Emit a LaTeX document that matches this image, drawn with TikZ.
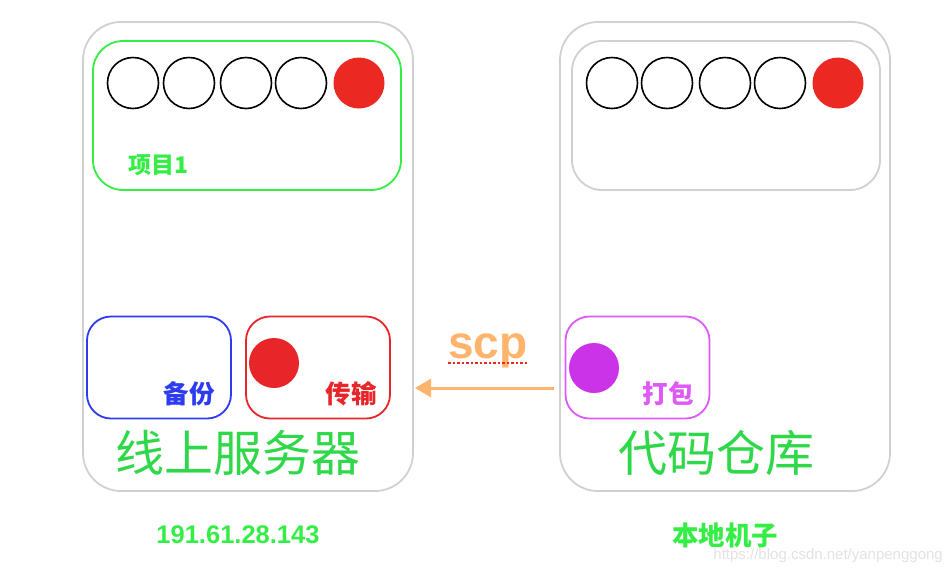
\documentclass[tikz,border=0pt]{standalone}
\usepackage{fontspec}
\setmainfont{Liberation Sans}
\newfontfamily\cjk{Noto Sans CJK SC}
\usetikzlibrary{arrows.meta,positioning}
\definecolor{framegray}{HTML}{D0D0D0}
\definecolor{projgreen}{HTML}{35EE45}
\definecolor{titlegreen}{HTML}{2ED849}
\definecolor{dotred}{HTML}{EB2822}
\definecolor{backblue}{HTML}{2D3CF0}
\definecolor{sendred}{HTML}{E8262A}
\definecolor{packviolet}{HTML}{DE5AF6}
\definecolor{packdot}{HTML}{CB33E8}
\definecolor{scporange}{HTML}{FFB46C}
\definecolor{markgray}{HTML}{E2E2E2}
\tikzset{
  hostbox/.style={draw=framegray,line width=1.8pt,rounded corners=38pt,minimum width=330pt,minimum height=469pt,inner sep=0pt},
  projbox/.style={line width=1.8pt,rounded corners=30pt,minimum width=308pt,minimum height=149pt,inner sep=0pt},
  jobbox/.style={line width=1.8pt,rounded corners=24pt,minimum width=144pt,minimum height=102pt,inner sep=0pt},
  ring/.style={circle,draw=black,line width=1.6pt,minimum size=51pt,inner sep=0pt},
  dot/.style={circle,fill=dotred,minimum size=51pt,inner sep=0pt},
  tag/.style={font=\cjk\bfseries\fontsize{25.5}{28}\selectfont,inner sep=0pt},
  title/.style={font=\cjk\fontsize{49}{54}\selectfont,text=titlegreen,inner sep=0pt},
  hostname/.style={font=\cjk\bfseries\fontsize{26.5}{30}\selectfont,text=projgreen,inner sep=0pt},
  scpflow/.style={-{Triangle[length=16pt,width=18pt]},line width=3pt,draw=scporange}
}
\begin{document}
\begin{tikzpicture}[x=1pt,y=-1pt]
  \useasboundingbox (0,0) rectangle (950,574);
  \node[hostbox] (server) at (248,256.5) {};
  \node[hostbox] (repo) at (725,256.5) {};
  \node[projbox,draw=projgreen] (proj) at (247,115.5) {};
  \node[projbox,draw=framegray] (localproj) at (726,115.5) {};
  \node[ring] (s1) at (133,83) {};
  \node[ring] (s2) at (189,83) {};
  \node[ring] (s3) at (246,83) {};
  \node[ring] (s4) at (301,83) {};
  \node[dot] (s5) at (359,83) {};
  \node[ring] (r1) at (612,83) {};
  \node[ring] (r2) at (667,83) {};
  \node[ring] (r3) at (725,83) {};
  \node[ring] (r4) at (780,83) {};
  \node[dot] (r5) at (838,83) {};
  \node[tag,text=projgreen,font=\cjk\bfseries\fontsize{23}{26}\selectfont] (projlabel) at (159,165) {项目1};
  \node[jobbox,draw=backblue] (backup) at (159,367.5) {};
  \node[jobbox,draw=sendred] (send) at (318,367.5) {};
  \node[jobbox,draw=packviolet] (pack) at (637.5,367.5) {};
  \node[dot,fill=sendred,minimum size=50pt] (senddot) at (274,363) {};
  \node[dot,fill=packdot,minimum size=50pt] (packdot) at (594,368) {};
  \node[tag,text=backblue] (backuplabel) at (189,394) {备份};
  \node[tag,text=sendred] (sendlabel) at (351,394) {传输};
  \node[tag,text=packviolet] (packlabel) at (668,394) {打包};
  \node[title] (servertitle) at (238,453) {线上服务器};
  \node[title] (repotitle) at (716,453) {代码仓库};
  \node[hostname,font=\bfseries\fontsize{25.5}{29}\selectfont] (serverip) at (238,535) {191.61.28.143};
  \node[hostname] (repohost) at (725,535) {本地机子};
  \node[anchor=base,inner sep=0pt,text=scporange,font=\bfseries\fontsize{46}{50}\selectfont] (scplabel) at (488,358) {scp};
  \draw[dotred,line width=2.5pt,dash pattern=on 2.5pt off 2pt] ([yshift=-5pt]scplabel.base west) -- ([yshift=-5pt]scplabel.base east);
  \coordinate (scpstart) at (554,388);
  \coordinate (scpend) at (415,388);
  \draw[scpflow] (scpstart) -- (scpend);
  \node[anchor=east,inner sep=0pt,text=markgray,font=\fontsize{15}{18}\selectfont] (mark) at (943,556) {https://blog.csdn.net/yanpenggong};
\end{tikzpicture}
\end{document}
